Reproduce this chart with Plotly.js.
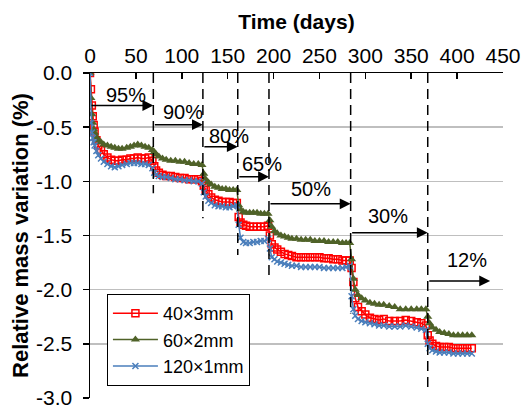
<!DOCTYPE html>
<html>
<head>
<meta charset="utf-8">
<script src="https://cdn.plot.ly/plotly-3.0.1.min.js"></script>
<style>
  html, body { margin: 0; padding: 0; background: #fff; }
  #chart { width: 522px; height: 412px; }
</style>
</head>
<body>
<div id="chart"></div>
<script>
// Measurement days (shared by the three series)
const days = [
  0, 1, 2, 3, 4, 5, 7, 9, 12, 15, 19, 23, 27, 31, 35, 40, 44, 48, 52, 56, 60, 64, 68,
  70, 72, 75, 79, 83, 88, 93, 98, 103, 108, 113, 118, 122,
  124, 126, 129, 132, 136, 140, 144, 148, 152, 156, 160,
  162, 164, 167, 170, 174, 178, 182, 186, 190, 194,
  196, 198, 201, 204, 208, 212, 216, 220, 225, 230, 235, 240, 245, 250, 255, 260, 265, 270, 275, 279, 283,
  285, 287, 289, 292, 296, 300, 305, 310, 315, 320, 326, 332, 338, 344, 350, 356, 361, 366,
  368, 370, 373, 377, 381, 386, 391, 396, 401, 406, 411, 416
];

// 40x3mm (red squares)
const s40x3 = [
  0, -0.15, -0.30, -0.40, -0.48, -0.54, -0.62, -0.67, -0.71, -0.75, -0.78, -0.80, -0.81, -0.81, -0.80, -0.80, -0.79, -0.79, -0.78, -0.79, -0.79, -0.78, -0.81,
  -0.86, -0.90, -0.92, -0.94, -0.95, -0.95, -0.96, -0.97, -0.97, -0.98, -0.98, -0.98, -1.00,
  -1.04, -1.08, -1.12, -1.15, -1.17, -1.18, -1.19, -1.19, -1.19, -1.20, -1.20,
  -1.33, -1.38, -1.40, -1.41, -1.42, -1.42, -1.42, -1.42, -1.42, -1.41,
  -1.50, -1.58, -1.61, -1.63, -1.65, -1.67, -1.68, -1.69, -1.70, -1.70, -1.70, -1.70, -1.70, -1.70, -1.71, -1.71, -1.72, -1.72, -1.73, -1.73, -1.73,
  -1.80, -1.93, -2.08, -2.16, -2.20, -2.23, -2.26, -2.27, -2.28, -2.27, -2.29, -2.29, -2.29, -2.28, -2.29, -2.30, -2.31, -2.33,
  -2.42, -2.47, -2.50, -2.52, -2.53, -2.53, -2.53, -2.54, -2.54, -2.54, -2.54, -2.54
];

// 60x2mm (green triangles)
const s60x2 = [
  0, -0.23, -0.38, -0.46, -0.52, -0.55, -0.59, -0.62, -0.64, -0.66, -0.67, -0.68, -0.69, -0.70, -0.70, -0.69, -0.68, -0.67, -0.66, -0.67, -0.68, -0.69, -0.71,
  -0.73, -0.75, -0.77, -0.79, -0.80, -0.81, -0.81, -0.82, -0.82, -0.83, -0.84, -0.84, -0.85,
  -0.93, -0.98, -1.01, -1.03, -1.05, -1.06, -1.07, -1.07, -1.08, -1.08, -1.08,
  -1.22, -1.26, -1.28, -1.29, -1.29, -1.29, -1.29, -1.30, -1.30, -1.30,
  -1.36, -1.42, -1.46, -1.48, -1.50, -1.51, -1.52, -1.53, -1.53, -1.54, -1.54, -1.54, -1.55, -1.55, -1.55, -1.56, -1.56, -1.56, -1.57, -1.57, -1.57,
  -1.72, -1.90, -2.00, -2.05, -2.08, -2.10, -2.12, -2.13, -2.14, -2.14, -2.15, -2.16, -2.18, -2.18, -2.18, -2.18, -2.18, -2.18,
  -2.25, -2.31, -2.35, -2.37, -2.39, -2.40, -2.41, -2.42, -2.42, -2.42, -2.42, -2.42
];

// 120x1mm (blue crosses)
const s120x1 = [
  0, -0.46, -0.55, -0.60, -0.64, -0.67, -0.72, -0.76, -0.79, -0.82, -0.84, -0.86, -0.87, -0.86, -0.85, -0.84, -0.83, -0.83, -0.83, -0.84, -0.84, -0.85, -0.88,
  -0.92, -0.94, -0.95, -0.96, -0.96, -0.97, -0.98, -0.98, -0.99, -0.99, -1.00, -1.00, -1.02,
  -1.10, -1.14, -1.18, -1.20, -1.22, -1.23, -1.23, -1.24, -1.24, -1.23, -1.22,
  -1.40, -1.52, -1.56, -1.57, -1.57, -1.56, -1.56, -1.55, -1.55, -1.53,
  -1.62, -1.70, -1.72, -1.74, -1.75, -1.76, -1.77, -1.78, -1.78, -1.79, -1.79, -1.79, -1.79, -1.79, -1.80, -1.80, -1.80, -1.80, -1.80, -1.79, -1.78,
  -2.06, -2.18, -2.24, -2.27, -2.29, -2.30, -2.31, -2.32, -2.33, -2.33, -2.34, -2.34, -2.34, -2.33, -2.34, -2.35, -2.36, -2.37,
  -2.50, -2.54, -2.56, -2.57, -2.58, -2.58, -2.58, -2.59, -2.59, -2.59, -2.59, -2.59
];

const seriesNames = ['40×3mm', '60×2mm', '120×1mm'];

// Axis ticks
const yTickVals = [0, -0.5, -1, -1.5, -2, -2.5, -3];
const yTickText = ['0.0', '-0.5', '-1.0', '-1.5', '-2.0', '-2.5', '-3.0'];
const xTickVals = [0, 50, 100, 150, 200, 250, 300, 350, 400, 450];

// Relative humidity stages
const stageStart = [0, 69, 123, 161, 195, 284, 368];
const stageEnd = [69, 123, 161, 195, 284, 368, 436];
const stageLabels = ['95%', '90%', '80%', '65%', '50%', '30%', '12%'];
const arrowLevel = [-0.30, -0.477, -0.68, -0.958, -1.208, -1.474, -1.919];
const labelDay = [38.7, 101.5, 151, 187, 241, 325, 410.5];
const labelLevel = [-0.206, -0.356, -0.579, -0.843, -1.074, -1.319, -1.722];
// Stage-change dashed markers
const changeDays = [69, 123, 161, 195, 284, 368];
const changeBottom = [-1.11, -1.34, -1.68, -1.87, -2.22, -2.92];

const FONT = 'Arial, "Liberation Sans", sans-serif';

const traces = [
  {
    x: days, y: s40x3, name: seriesNames[0], type: 'scatter', mode: 'lines+markers',
    line: {color: '#FF0000', width: 1.5},
    marker: {symbol: 'square-open', size: 7, color: '#FF0000', line: {width: 1.5, color: '#FF0000'}}
  },
  {
    x: days, y: s60x2, name: seriesNames[1], type: 'scatter', mode: 'lines+markers',
    line: {color: '#4F6228', width: 1.5},
    marker: {symbol: 'triangle-up', size: 8, color: '#4F6228'}
  },
  {
    x: days, y: s120x1, name: seriesNames[2], type: 'scatter', mode: 'lines+markers',
    line: {color: '#4A7EBB', width: 1.5},
    marker: {symbol: 'x-thin-open', size: 6, color: '#4A7EBB', line: {width: 1.5, color: '#4A7EBB'}}
  }
];

const shapes = changeDays.map((d, i) => ({
  type: 'line', xref: 'x', yref: 'y',
  x0: d, x1: d, y0: 0, y1: changeBottom[i],
  line: {color: '#000', width: 1.5, dash: '10px,6px'}
}));

const annotations = [];
stageLabels.forEach((lab, i) => {
  annotations.push({
    xref: 'x', yref: 'y', axref: 'x', ayref: 'y',
    x: stageEnd[i], y: arrowLevel[i], ax: stageStart[i], ay: arrowLevel[i],
    text: '', showarrow: true, arrowhead: 2, arrowsize: 1.45, arrowwidth: 1.5,
    arrowcolor: '#000', standoff: 0, startstandoff: 0
  });
  annotations.push({
    xref: 'x', yref: 'y', x: labelDay[i], y: labelLevel[i],
    text: lab, showarrow: false, xanchor: 'center', yanchor: 'middle',
    font: {family: FONT, size: 20, color: '#000'}
  });
});

const layout = {
  width: 522, height: 412,
  margin: {l: 90, r: 19, t: 73, b: 14},
  paper_bgcolor: '#fff', plot_bgcolor: '#fff',
  font: {family: FONT, size: 20, color: '#000'},
  showlegend: true,
  legend: {
    x: 0.041, y: 0.32, xanchor: 'left', yanchor: 'top',
    bgcolor: '#fff', bordercolor: '#000', borderwidth: 1,
    font: {family: FONT, size: 18, color: '#000'},
    itemwidth: 45,
    tracegroupgap: 0
  },
  xaxis: {
    side: 'top', range: [0, 450], tickmode: 'array', tickvals: xTickVals,
    showgrid: false, zeroline: false,
    showline: true, linecolor: '#000', linewidth: 1.5,
    ticks: 'inside', ticklen: 6, tickwidth: 1.5, tickcolor: '#000',
    tickfont: {family: FONT, size: 21},
    title: {text: '<b>Time (days)</b>', font: {family: FONT, size: 21}, standoff: 8}
  },
  yaxis: {
    range: [-3, 0], tickmode: 'array', tickvals: yTickVals, ticktext: yTickText,
    showgrid: true, gridcolor: '#BFBFBF', gridwidth: 1.5,
    zeroline: false,
    showline: true, linecolor: '#000', linewidth: 1.5,
    ticks: 'outside', ticklen: 6, tickwidth: 1.5, tickcolor: '#000',
    ticklabelstandoff: 6,
    tickfont: {family: FONT, size: 21},
    title: {text: '<b>Relative mass variation (%)</b>', font: {family: FONT, size: 22}, standoff: 1}
  },
  shapes: shapes,
  annotations: annotations
};

Plotly.newPlot('chart', traces, layout, {staticPlot: true, displayModeBar: false});
</script>
</body>
</html>
